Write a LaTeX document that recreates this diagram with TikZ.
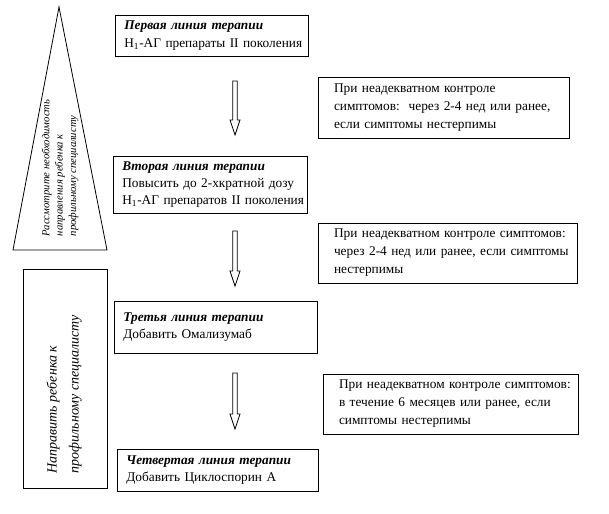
\documentclass[tikz,border=0pt]{standalone}
\usepackage{fontspec}
\setmainfont{Liberation Serif}
\usetikzlibrary{calc}

% hollow block arrow pointing down, from #1 (top of shaft) to #2 (tip)
\newcommand{\hollowdown}[2]{%
  \draw[line width=0.6pt] let \p1=(#1), \p2=(#2) in
    (\x1-1.7pt,\y1) -- (\x1+1.7pt,\y1) -- (\x1+1.7pt,\y2+11.25pt)
    -- (\x1+3.75pt,\y2+11.25pt) -- (\x2,\y2) -- (\x1-3.75pt,\y2+11.25pt)
    -- (\x1-1.7pt,\y2+11.25pt) -- cycle;}

\begin{document}
\begin{tikzpicture}[x=0.75pt, y=-0.75pt,
  box/.style={draw, line width=0.6pt, inner xsep=0pt, inner ysep=0pt, align=left,
              execute at begin node={\leftskip=#1\relax}},
  stage/.style={box=7pt, font=\fontsize{10}{13}\selectfont},
  note/.style={box=12pt, font=\fontsize{10}{13.5}\selectfont},
  side/.style={rotate=90, anchor=west, align=left}]
  \useasboundingbox (0,0) rectangle (609,513);

  % left column
  \draw[line width=0.6pt] (59,7) -- (107,250) -- (13,250) -- cycle;
  \node[side, font=\itshape\fontsize{8}{10}\selectfont] (consult) at (60,241)
    {Рассмотрите необходимость\\направления ребенка к\\профильному специалисту};
  \node[draw, line width=0.6pt, minimum width=63pt, minimum height=164.25pt] (refbox) at (65,378.5) {};
  \node[side, font=\itshape\fontsize{10.5}{16.5}\selectfont] (refer) at (64,478)
    {Направить ребенка к\\профильному специалисту};

  % therapy lines
  \node[stage, text width=144.75pt, minimum height=30.75pt] (line1) at (211.5,35.5)
    {\textbf{\textit{Первая линия терапии}}\\H\textsubscript{1}-АГ препараты II поколения};
  \node[stage, text width=145.5pt, minimum height=42.75pt] (line2) at (210,184.5)
    {\textbf{\textit{Вторая линия терапии}}\\Повысить до 2-хкратной дозу\\H\textsubscript{1}-АГ препаратов II поколения};
  \node[stage, text width=152.25pt, minimum height=39pt] (line3) at (215.5,327)
    {\textbf{\textit{Третья линия терапии}}\\Добавить Омализумаб};
  \node[stage, text width=150.75pt, minimum height=31.5pt] (line4) at (217.5,470)
    {\textbf{\textit{Четвертая линия терапии}}\\Добавить Циклоспорин А};

  % conditions
  \node[note, text width=188.25pt, minimum height=45.75pt] (cond1) at (443.5,107.5)
    {При неадекватном контроле\\симптомов:\ \ через 2-4 нед или ранее,\\если симптомы нестерпимы};
  \node[note, text width=194.25pt, minimum height=45pt] (cond2) at (447.5,253)
    {При неадекватном контроле симптомов:\\через 2-4 нед или ранее, если симптомы\\нестерпимы};
  \node[note, text width=191.25pt, minimum height=45pt] (cond3) at (450.5,404)
    {При неадекватном контроле симптомов:\\в течение 6 месяцев или ранее, если\\симптомы нестерпимы};

  % arrows
  \coordinate (arr1top) at (235,81);  \coordinate (arr1tip) at (235,135);
  \coordinate (arr2top) at (235,231); \coordinate (arr2tip) at (235,286);
  \coordinate (arr3top) at (235,373); \coordinate (arr3tip) at (235,429);
  \hollowdown{arr1top}{arr1tip}
  \hollowdown{arr2top}{arr2tip}
  \hollowdown{arr3top}{arr3tip}
\end{tikzpicture}
\end{document}
